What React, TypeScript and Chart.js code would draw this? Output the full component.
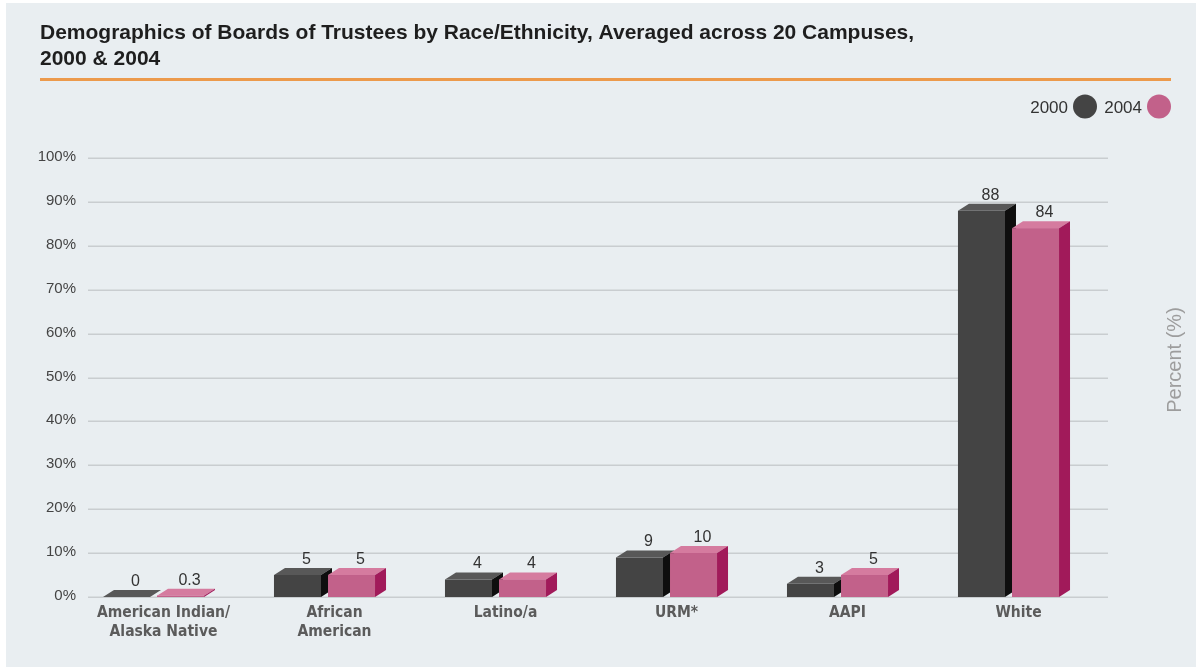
import React, { useEffect, useRef } from 'react';
import { Chart, registerables } from 'chart.js';

Chart.register(...registerables);

// ---- data ----
const categories: (string | string[])[] = [
  ['American Indian/', 'Alaska Native'],
  ['African', 'American'],
  'Latino/a',
  'URM*',
  'AAPI',
  'White',
];
const seriesNames = ['2000', '2004'];
const values2000 = [0, 5, 4, 9, 3, 88];
const values2004 = [0.3, 5, 4, 10, 5, 84];
const yTickValues = [0, 10, 20, 30, 40, 50, 60, 70, 80, 90, 100];

const titleLines = [
  'Demographics of Boards of Trustees by Race/Ethnicity, Averaged across 20 Campuses,',
  '2000 & 2004',
];
const axisTitle = 'Percent (%)';

// ---- styling ----
const W = 1196;
const H = 669;
const PANEL = '#e9eef1';
const NARROW = "'Liberation Sans Narrow', 'DejaVu Sans Condensed', 'Arial Narrow', sans-serif";
const SANS = "'Liberation Sans', Arial, sans-serif";

const faces = [
  { front: '#444444', top: '#585858', side: '#0e0e0e' },
  { front: '#c2618a', top: '#d57b9f', side: '#a11a5a' },
];

// depth of the extruded bars
const DX = 11;
const DY = 7;

type BarProps = { x: number; y: number; base: number; width: number };

const percentLabel = (v: number) => `${v}%`;

const backdropPlugin = {
  id: 'backdrop',
  beforeDraw(chart: Chart) {
    const { ctx } = chart;
    ctx.save();
    ctx.fillStyle = '#ffffff';
    ctx.fillRect(0, 0, W, H);
    ctx.fillStyle = PANEL;
    ctx.fillRect(6, 3, W - 6, H - 5);

    // heading
    ctx.fillStyle = '#1e1e1e';
    ctx.font = `bold 21px ${SANS}`;
    ctx.textAlign = 'left';
    ctx.textBaseline = 'alphabetic';
    ctx.fillText(titleLines[0], 40, 39);
    ctx.fillText(titleLines[1], 40, 65);

    // orange rule under the heading
    ctx.strokeStyle = '#ec9a4c';
    ctx.lineWidth = 3;
    ctx.beginPath();
    ctx.moveTo(40, 79.5);
    ctx.lineTo(1171, 79.5);
    ctx.stroke();

    // legend: label then dot
    ctx.font = `17px ${SANS}`;
    ctx.textAlign = 'right';
    const legendItems = [
      { text: seriesNames[0], right: 1068, cx: 1085, color: faces[0].front },
      { text: seriesNames[1], right: 1142, cx: 1159, color: faces[1].front },
    ];
    legendItems.forEach((it) => {
      ctx.fillStyle = '#333333';
      ctx.fillText(it.text, it.right, 113);
      ctx.fillStyle = it.color;
      ctx.beginPath();
      ctx.arc(it.cx, 106.5, 12, 0, Math.PI * 2);
      ctx.fill();
    });

    // right-hand axis title
    ctx.save();
    ctx.translate(1175, 360);
    ctx.rotate(-Math.PI / 2);
    ctx.font = `20px ${SANS}`;
    ctx.fillStyle = '#9d9d9d';
    ctx.textAlign = 'center';
    ctx.textBaseline = 'middle';
    ctx.fillText(axisTitle, 0, 0);
    ctx.restore();

    ctx.restore();
  },
  beforeDatasetsDraw(chart: Chart) {
    // horizontal gridlines on the back wall, with their percent labels
    const { ctx, chartArea } = chart;
    const yScale = chart.scales.y;
    ctx.save();
    ctx.strokeStyle = '#c9cdd0';
    ctx.lineWidth = 1.5;
    ctx.font = `15px ${SANS}`;
    ctx.fillStyle = '#444444';
    ctx.textAlign = 'right';
    ctx.textBaseline = 'middle';
    yScale.ticks.forEach((t) => {
      const y = Math.round(yScale.getPixelForValue(t.value)) + 0.25;
      ctx.beginPath();
      ctx.moveTo(chartArea.left + 20, y);
      ctx.lineTo(chartArea.right + 14, y);
      ctx.stroke();
      ctx.fillText(percentLabel(t.value), chartArea.left + 8, y - 1.5);
    });
    ctx.restore();
  },
  afterDatasetsDraw(chart: Chart) {
    const { ctx } = chart;
    const metas = [chart.getDatasetMeta(0), chart.getDatasetMeta(1)];
    const count = chart.data.labels?.length ?? 0;
    ctx.save();
    for (let i = 0; i < count; i++) {
      metas.forEach((meta, d) => {
        const el = meta.data[i] as any;
        const p = el.getProps(['x', 'y', 'base', 'width'], true) as BarProps;
        const x0 = p.x - p.width / 2;
        const x1 = p.x + p.width / 2;
        const top = Math.min(p.y, p.base);
        const bottom = Math.max(p.y, p.base);
        const f = faces[d];
        if (d > 0) {
          // front face again so it sits over the neighbour's side
          ctx.fillStyle = f.front;
          ctx.fillRect(x0, top, p.width, bottom - top);
        }
        ctx.fillStyle = f.top;
        ctx.beginPath();
        ctx.moveTo(x0, top);
        ctx.lineTo(x1, top);
        ctx.lineTo(x1 + DX, top - DY);
        ctx.lineTo(x0 + DX, top - DY);
        ctx.closePath();
        ctx.fill();
        ctx.fillStyle = f.side;
        ctx.beginPath();
        ctx.moveTo(x1, top);
        ctx.lineTo(x1 + DX, top - DY);
        ctx.lineTo(x1 + DX, bottom - DY);
        ctx.lineTo(x1, bottom);
        ctx.closePath();
        ctx.fill();
      });
    }
    // value labels above each bar
    ctx.font = `16px ${SANS}`;
    ctx.fillStyle = '#333333';
    ctx.textAlign = 'center';
    ctx.textBaseline = 'alphabetic';
    metas.forEach((meta, d) => {
      const vals = chart.data.datasets[d].data as number[];
      meta.data.forEach((el: any, i: number) => {
        const p = el.getProps(['x', 'y', 'base'], true) as BarProps;
        const top = Math.min(p.y, p.base);
        ctx.fillText(String(vals[i]), p.x + 9, top - DY - 4);
      });
    });
    ctx.restore();
  },
};

export default function App() {
  const ref = useRef<HTMLCanvasElement | null>(null);

  useEffect(() => {
    if (!ref.current) return;
    const chart = new Chart(ref.current, {
      type: 'bar',
      data: {
        labels: categories,
        datasets: [
          {
            label: seriesNames[0],
            data: values2000,
            backgroundColor: faces[0].front,
            barPercentage: 0.87,
            categoryPercentage: 0.632,
          },
          {
            label: seriesNames[1],
            data: values2004,
            backgroundColor: faces[1].front,
            barPercentage: 0.87,
            categoryPercentage: 0.632,
          },
        ],
      },
      options: {
        animation: false,
        responsive: false,
        devicePixelRatio: 1,
        layout: { padding: { top: 158, right: W - 1094, left: 0, bottom: 0 } },
        plugins: {
          legend: { display: false },
          tooltip: { enabled: false },
          title: { display: false },
        },
        scales: {
          x: {
            type: 'category',
            grid: { display: false, drawTicks: false },
            border: { display: false },
            ticks: {
              color: '#5b5b5b',
              font: { family: NARROW, size: 15.5, weight: 'bold', lineHeight: 1.25 },
              padding: 6,
              labelOffset: 10,
              maxRotation: 0,
              autoSkip: false,
            },
            afterFit: (s: any) => {
              s.height = H - 597;
            },
          },
          y: {
            min: 0,
            max: 100,
            grid: { display: false, drawTicks: false },
            border: { display: false },
            afterBuildTicks: (s: any) => {
              s.ticks = yTickValues.map((v) => ({ value: v }));
            },
            ticks: { display: false },
            afterFit: (s: any) => {
              s.width = 68;
            },
          },
        },
      },
      plugins: [backdropPlugin],
    });
    return () => chart.destroy();
  }, []);

  return (
    <div style={{ position: 'fixed', left: 0, top: 0, width: W, height: H }}>
      <canvas ref={ref} width={W} height={H} style={{ display: 'block', width: W, height: H }} />
    </div>
  );
}
